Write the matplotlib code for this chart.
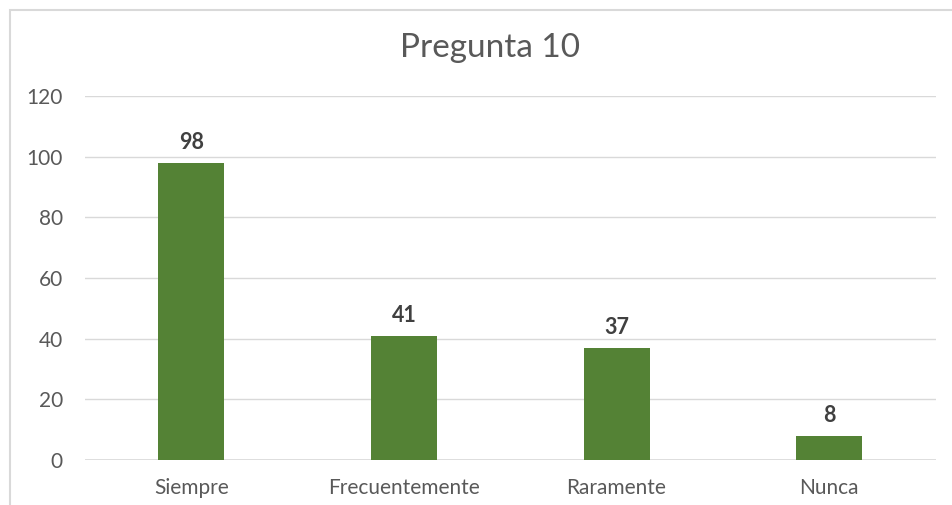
import matplotlib
matplotlib.use("Agg")
from matplotlib import pyplot as plt
from matplotlib.patches import Rectangle

# data
categorias = ["Siempre", "Frecuentemente", "Raramente", "Nunca"]
valores = [98, 41, 37, 8]
yticks = [0, 20, 40, 60, 80, 100, 120]

plt.rcParams['font.family'] = ['Lato', 'DejaVu Sans']

fig = plt.figure(figsize=(9.52, 5.05), dpi=100)
# outer chart border
fig.patches.append(Rectangle((10 / 952, -0.05), 1.0, (505 - 10) / 505 + 0.05,
                             transform=fig.transFigure, fill=False,
                             edgecolor="#d9d9d9", linewidth=1.5))

ax = fig.add_axes([85 / 952, 45 / 505, 850.5 / 952, 364 / 505])
x = list(range(len(categorias)))
bars = ax.bar(x, valores, width=0.31, color="#548235", zorder=3)

for xi, v in zip(x, valores):
    ax.annotate(str(v), (xi, v), xytext=(0, 7), textcoords="offset points",
                ha="center", va="bottom", fontsize=15.5, fontweight="bold",
                color="#404040")

ax.set_xlim(-0.5, len(categorias) - 0.5)
ax.set_ylim(0, 120)
ax.set_yticks(yticks)
ax.set_xticks(x)
ax.set_xticklabels(categorias)
ax.grid(axis="y", color="#d9d9d9", linewidth=1, zorder=0)
for s in ["top", "right", "left", "bottom"]:
    ax.spines[s].set_visible(False)
ax.axhline(0, color="#d9d9d9", linewidth=1.2, zorder=2)
ax.tick_params(axis="both", length=0, labelsize=15, colors="#595959")
ax.tick_params(axis="y", pad=16)
ax.tick_params(axis="x", pad=13)

fig.text(490 / 952, 1 - 48 / 505, "Pregunta 10", ha="center", va="center",
         fontsize=24, color="#595959")

fig.savefig("out.png", dpi=100)
